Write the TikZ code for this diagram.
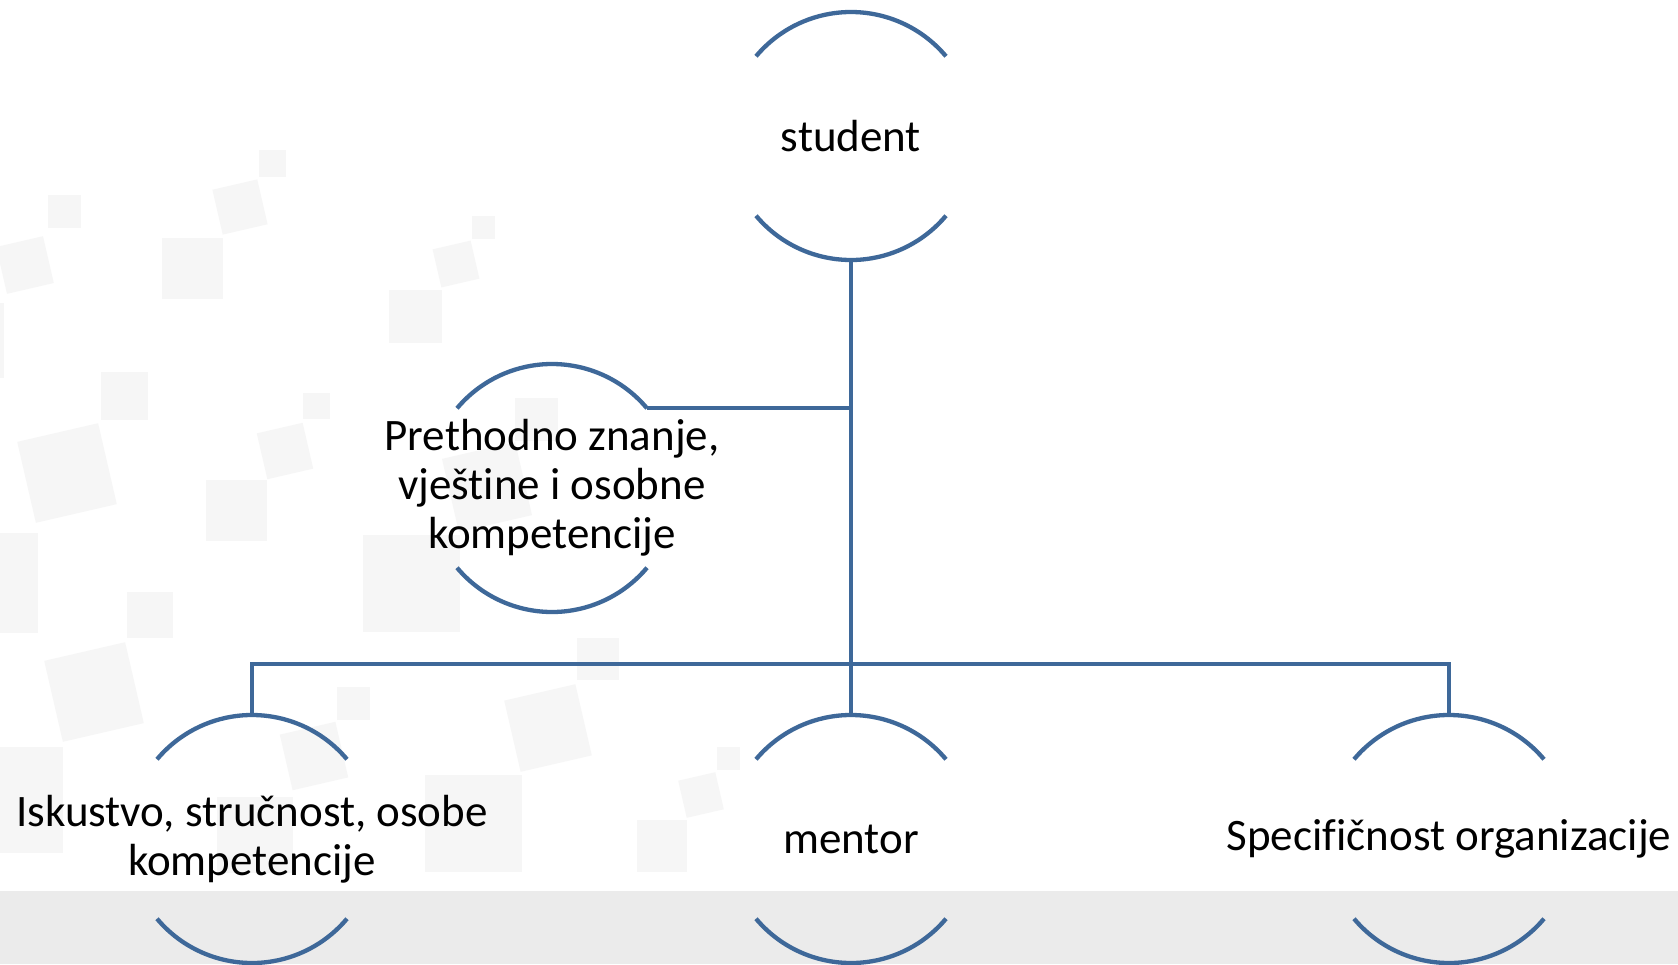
\documentclass[tikz,border=0pt]{standalone}
\usepackage{fontspec}
\setmainfont[Ligatures=NoCommon]{Carlito}
\definecolor{lineblue}{RGB}{62,104,153}
\definecolor{sqgray}{RGB}{246,246,246}
\definecolor{bandgray}{RGB}{235,235,235}
\newcommand\ringarcs[1]{%
  \draw[arcline] (#1.40) arc[start angle=40,end angle=140,radius=124pt];
  \draw[arcline] (#1.220) arc[start angle=220,end angle=320,radius=124pt];}
\begin{document}
\begin{tikzpicture}[x=1pt,y=-1pt,
  conn/.style={draw=lineblue,line width=4.3pt},
  arcline/.style={draw=lineblue,line width=4.3pt},
  holder/.style={circle,minimum size=248pt,inner sep=0pt,outer sep=0pt},
  lbl/.style={font=\fontsize{45}{49}\selectfont,align=center,inner sep=0pt,text=black},
  rsq/.style={fill=sqgray,rectangle,inner sep=0pt,outer sep=0pt,rotate=13},
  asq/.style={fill=sqgray}]
\useasboundingbox (0,0) rectangle (1678,964);
\fill[white] (0,0) rectangle (1678,964);
% background decoration
\fill[asq] (259,150) rectangle (286,177);
\node[rsq,minimum size=46pt] (r1) at (240,207) {};
\fill[asq] (162,238) rectangle (223,299);
\fill[asq] (48,195) rectangle (81,228);
\node[rsq,minimum size=48pt] (r2) at (25,265) {};
\fill[asq] (-71,303) rectangle (4,378);
\fill[asq] (472,216) rectangle (495,239);
\node[rsq,minimum size=39pt] (r3) at (456,264) {};
\fill[asq] (389,290) rectangle (442,343);
\fill[asq] (101,372) rectangle (148,420);
\node[rsq,minimum size=83pt] (r4) at (67,473) {};
\fill[asq] (-62,533) rectangle (38,633);
\fill[asq] (303,393) rectangle (330,419);
\node[rsq,minimum size=47pt] (r5) at (285,451) {};
\fill[asq] (206,480) rectangle (267,541);
\fill[asq] (515,398) rectangle (558,441);
\node[rsq,minimum size=75pt] (r6) at (487,487) {};
\fill[asq] (363,535) rectangle (460,632);
\fill[asq] (127,592) rectangle (173,638);
\node[rsq,minimum size=83pt] (r7) at (94,692) {};
\fill[asq] (-43,747) rectangle (63,853);
\fill[asq] (337,687) rectangle (370,720);
\node[rsq,minimum size=57pt] (r8) at (314,756) {};
\fill[asq] (217,797) rectangle (293,873);
\fill[asq] (577,638) rectangle (619,680);
\node[rsq,minimum size=73pt] (r9) at (548,728) {};
\fill[asq] (425,775) rectangle (522,872);
\fill[asq] (717,747) rectangle (740,770);
\node[rsq,minimum size=38pt] (r10) at (701,795) {};
\fill[asq] (637,820) rectangle (687,872);
% bottom band
\fill[bandgray] (0,891) rectangle (1678,964);
% nodes
\node[holder] (student) at (851,136) {};
\node[holder] (prev) at (552,488) {};
\node[holder] (isk) at (252,839) {};
\node[holder] (mentor) at (851,839) {};
\node[holder] (spec) at (1449,839) {};
\ringarcs{student}
\ringarcs{prev}
\ringarcs{isk}
\ringarcs{mentor}
\ringarcs{spec}
\node[lbl] (studentT) at (student) {student};
\node[lbl] (prevT) at (prev) {Prethodno znanje,\\vještine i osobne\\kompetencije};
\node[lbl] (iskT) at (isk) {Iskustvo, stručnost, osobe\\kompetencije};
\node[lbl] (mentorT) at (mentor) {mentor};
\node[lbl] (specT) at (spec) {Specifičnost organizacije};
% connectors
\coordinate (bar) at (851,664);
\draw[conn] (student.south) -- (mentor.north);
\draw[conn] (prev.40) -- (prev.40 -| student.south);
\draw[conn] (isk.north) |- (bar) -| (spec.north);
\end{tikzpicture}
\end{document}
